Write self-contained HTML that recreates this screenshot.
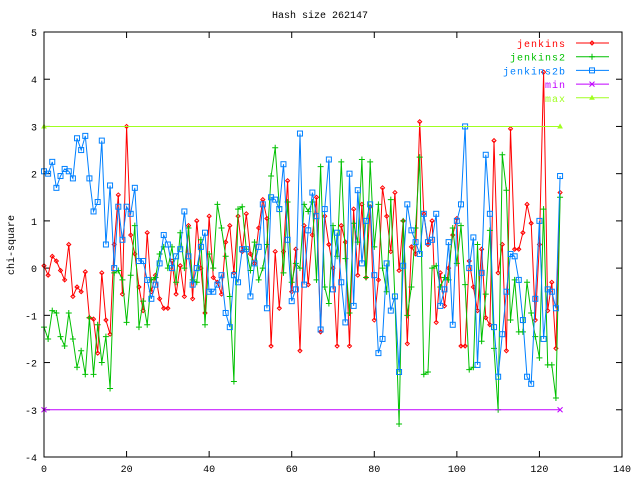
<!DOCTYPE html>
<html><head><meta charset="utf-8"><style>
body{margin:0;background:#fff}
svg{display:block}
text{font-family:"Liberation Mono",monospace;font-size:10px}
</style></head><body>
<svg id="s" width="640" height="480" xmlns="http://www.w3.org/2000/svg"></svg>
<script>
const s=document.getElementById('s');
const L=44,R=622,T=32,B=457;
const X=v=>L+(R-L)*v/140, Y=v=>T+(B-T)*(5-v)/9;
let h='';
h+=`<text x="320" y="18" text-anchor="middle">Hash size 262147</text>`;
h+=`<text transform="translate(14,245) rotate(-90)" text-anchor="middle">chi-square</text>`;
for(let v=-4;v<=5;v++){const y=Y(v);
 h+=`<line x1="${L}" y1="${y}" x2="${L+6}" y2="${y}" stroke="#000"/><line x1="${R}" y1="${y}" x2="${R-6}" y2="${y}" stroke="#000"/>`;
 h+=`<text x="37" y="${y+4}" text-anchor="end">${v}</text>`;}
for(let v=0;v<=140;v+=20){const x=X(v);
 h+=`<line x1="${x}" y1="${B}" x2="${x}" y2="${B-6}" stroke="#000"/><line x1="${x}" y1="${T}" x2="${x}" y2="${T+6}" stroke="#000"/>`;
 h+=`<text x="${x}" y="472" text-anchor="middle">${v}</text>`;}
const red=[0.05,-0.15,0.25,0.15,-0.05,-0.25,0.5,-0.6,-0.4,-0.5,-0.08,-1.05,-1.08,-1.8,-0.1,-1.1,-1.4,0.5,1.55,-0.55,3.0,0.7,0.3,-0.4,-0.9,0.75,-0.5,-0.15,-0.65,-0.85,-0.85,0.15,-0.55,0.05,-0.6,0.9,-0.65,1.0,0.0,-0.95,1.1,-0.2,-0.3,-0.55,0.55,0.9,-0.1,1.1,0.35,1.15,0.3,0.1,0.85,1.45,1.05,-1.65,0.35,-0.85,0.35,1.85,-0.5,0.4,-1.75,0.9,-0.35,0.7,1.5,-1.35,1.1,0.5,0.0,-1.65,0.9,0.55,-1.65,1.25,-0.15,1.35,-0.2,1.3,-1.1,-0.25,1.7,1.1,0.35,1.6,-0.05,1.0,-1.6,0.45,0.3,3.1,1.15,0.5,1.0,-1.15,-0.1,-0.8,0.0,0.7,1.05,-1.65,-1.65,0.15,-0.4,-0.9,0.4,-1.05,-1.2,2.7,-0.1,0.5,-1.75,2.95,0.4,0.4,0.75,1.35,0.95,-1.1,0.5,4.15,-0.9,-0.3,-1.7,1.6];
const green=[-1.25,-1.5,-0.9,-0.95,-1.45,-1.65,-0.95,-1.5,-2.1,-1.75,-2.25,-1.05,-2.25,-1.2,-2.0,-1.45,-2.55,-0.1,-0.05,-0.25,-1.15,-0.15,0.9,-1.25,-0.7,-1.2,-0.25,-0.2,0.3,0.45,0.0,0.45,-0.3,0.75,0.0,0.85,-0.25,-0.3,0.6,-1.2,0.3,0.0,1.35,0.85,0.25,-0.6,-2.4,1.25,1.3,0.4,-0.05,0.55,-0.25,0.0,0.5,1.95,2.55,1.3,-0.1,1.4,-0.3,0.1,0.0,1.35,1.2,1.4,-0.25,2.15,-0.4,-0.75,0.9,0.25,2.25,0.2,-0.95,0.95,0.55,2.3,-0.2,2.25,0.45,1.35,0.0,-0.5,1.45,-0.65,-3.3,1.0,-1.0,-0.4,0.85,2.35,-2.25,-2.2,0.0,0.05,-0.4,-0.2,-0.25,0.85,0.1,0.9,-0.35,-2.15,-2.1,0.5,-1.55,-0.55,0.8,-1.7,-3.0,2.4,1.65,-1.1,-0.25,-1.35,-1.35,-0.3,-0.95,-1.45,-1.9,1.25,-2.05,-2.05,-2.75,1.5];
const blue=[2.05,2.0,2.25,1.7,1.95,2.1,2.05,1.9,2.75,2.5,2.8,1.9,1.2,1.4,2.7,0.5,1.75,0.0,1.3,0.6,1.3,1.15,1.7,0.15,0.15,-0.25,-0.65,-0.35,0.1,0.7,0.5,0.0,0.25,0.4,1.2,0.25,-0.35,0.0,0.45,0.75,-0.5,-0.5,-0.35,-0.15,-0.95,-1.25,-0.15,-0.3,0.4,0.4,-0.6,0.1,0.45,1.35,-0.85,1.5,1.45,1.25,2.2,0.6,-0.7,-0.45,2.85,-0.35,0.8,1.6,1.1,-1.3,1.25,2.3,-0.45,0.75,-0.3,-1.15,2.0,-0.8,1.65,0.1,1.0,1.35,-0.15,-1.8,-1.5,0.1,-0.9,-0.6,-2.2,0.05,1.35,0.8,0.55,0.3,1.15,0.55,0.6,1.15,-0.8,-0.45,0.55,-1.2,1.0,1.35,3.0,0.0,0.65,-2.05,-0.1,2.4,1.15,-1.25,-2.3,-1.4,-0.5,0.3,0.25,-0.25,-1.1,-2.3,-2.45,-0.65,1.0,-1.5,-0.45,-0.5,-0.85,1.95];
function mk(t,x,y,c){
 if(t=='d')return `<path d="M${x-2} ${y}L${x} ${y-2}L${x+2} ${y}L${x} ${y+2}Z" fill="none" stroke="${c}"/>`;
 if(t=='p')return `<path d="M${x-3} ${y}H${x+3}M${x} ${y-3}V${y+3}" stroke="${c}"/>`;
 if(t=='s')return `<rect x="${x-2.5}" y="${y-2.5}" width="5" height="5" fill="none" stroke="${c}"/>`;
 if(t=='x')return `<path d="M${x-2.5} ${y-2.5}L${x+2.5} ${y+2.5}M${x+2.5} ${y-2.5}L${x-2.5} ${y+2.5}" stroke="${c}"/>`;
 return `<path d="M${x-2} ${y+1.5}L${x} ${y-2}L${x+2} ${y+1.5}Z" fill="${c}" stroke="${c}"/>`;
}
function series(d,c,t){
 let p=d.map((v,i)=>`${X(i).toFixed(1)},${Y(v).toFixed(1)}`).join(' ');
 h+=`<polyline points="${p}" fill="none" stroke="${c}" stroke-width="1"/>`;
 d.forEach((v,i)=>h+=mk(t,X(i),Y(v),c));
}
series(red,'#ff0000','d');series(green,'#00c000','p');series(blue,'#0080ff','s');
h+=`<line x1="${X(0)}" y1="${Y(-3)}" x2="${X(125)}" y2="${Y(-3)}" stroke="#c000ff"/>`+mk('x',X(0),Y(-3),'#c000ff')+mk('x',X(125),Y(-3),'#c000ff');
h+=`<line x1="${X(0)}" y1="${Y(3)}" x2="${X(125)}" y2="${Y(3)}" stroke="#a0ff20"/>`+mk('t',X(0),Y(3),'#a0ff20')+mk('t',X(125),Y(3),'#a0ff20');
const leg=[['jenkins','#ff0000','d'],['jenkins2','#00c000','p'],['jenkins2b','#0080ff','s'],['min','#c000ff','x'],['max','#a0ff20','t']];
leg.forEach((l,i)=>{const y=43+i*13.7;
 h+=`<text x="566" y="${y+4}" text-anchor="end" fill="${l[1]}" letter-spacing="1">${l[0]}</text>`;
 h+=`<line x1="576" y1="${y}" x2="609" y2="${y}" stroke="${l[1]}"/>`+mk(l[2],592,y,l[1]);});
h+=`<rect x="${L}" y="${T}" width="${R-L}" height="${B-T}" fill="none" stroke="#000"/>`;
s.innerHTML=h;
</script>
</body></html>
